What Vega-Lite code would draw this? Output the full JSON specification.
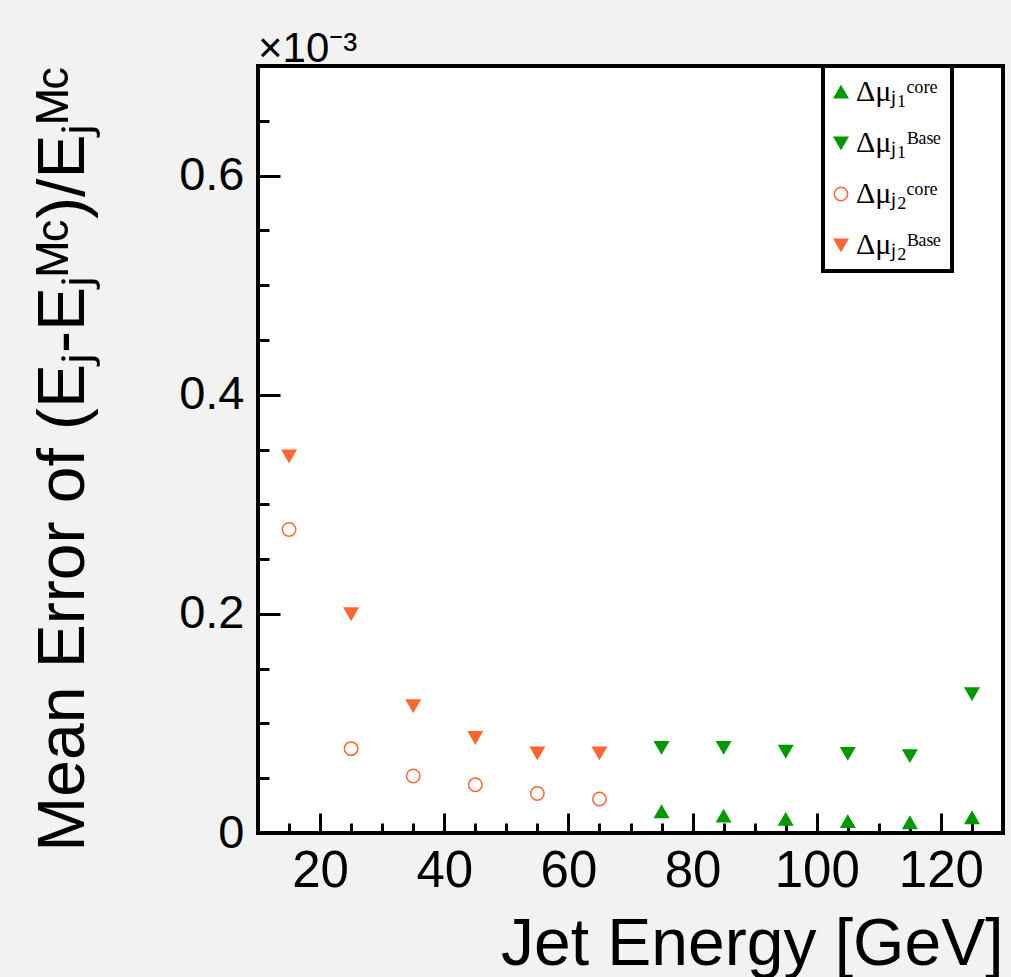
{
  "$schema": "https://vega.github.io/schema/vega-lite/v6.json",
  "width": 745,
  "height": 767,
  "autosize": {"type": "none"},
  "padding": {"left": 258, "top": 66, "right": 8, "bottom": 144},
  "background": "#f2f2f2",
  "title": {
    "text": "×10⁻³",
    "anchor": "start",
    "frame": "group",
    "offset": 6,
    "dy": 46,
    "fontSize": 42,
    "font": "Liberation Sans",
    "fontWeight": "normal",
    "color": "black",
    "baseline": "alphabetic"
  },
  "data": {
    "values": [
      {"E": 15, "err": 0.344, "s": "J2Base"},
      {"E": 25, "err": 0.200, "s": "J2Base"},
      {"E": 35, "err": 0.116, "s": "J2Base"},
      {"E": 45, "err": 0.087, "s": "J2Base"},
      {"E": 55, "err": 0.073, "s": "J2Base"},
      {"E": 65, "err": 0.073, "s": "J2Base"},
      {"E": 15, "err": 0.277, "s": "J2Core"},
      {"E": 25, "err": 0.077, "s": "J2Core"},
      {"E": 35, "err": 0.052, "s": "J2Core"},
      {"E": 45, "err": 0.044, "s": "J2Core"},
      {"E": 55, "err": 0.036, "s": "J2Core"},
      {"E": 65, "err": 0.031, "s": "J2Core"},
      {"E": 75, "err": 0.078, "s": "J1Base"},
      {"E": 85, "err": 0.078, "s": "J1Base"},
      {"E": 95, "err": 0.0745, "s": "J1Base"},
      {"E": 105, "err": 0.0725, "s": "J1Base"},
      {"E": 115, "err": 0.0705, "s": "J1Base"},
      {"E": 125, "err": 0.127, "s": "J1Base"},
      {"E": 75, "err": 0.0195, "s": "J1Core"},
      {"E": 85, "err": 0.0155, "s": "J1Core"},
      {"E": 95, "err": 0.0125, "s": "J1Core"},
      {"E": 105, "err": 0.0105, "s": "J1Core"},
      {"E": 115, "err": 0.0095, "s": "J1Core"},
      {"E": 125, "err": 0.014, "s": "J1Core"}
    ]
  },
  "mark": {"type": "point", "filled": true, "size": 180, "strokeWidth": 1.5, "opacity": 1},
  "encoding": {
    "x": {
      "field": "E",
      "type": "quantitative",
      "scale": {"domain": [10, 130], "nice": false, "zero": false},
      "axis": {
        "title": "Jet Energy [GeV]",
        "values": [15, 20, 25, 30, 35, 40, 45, 50, 55, 60, 65, 70, 75, 80, 85, 90, 95, 100, 105, 110, 115, 120, 125],
        "labelExpr": "datum.value % 20 === 0 ? toString(datum.value) : ''",
        "tickSize": {"condition": {"test": "datum.value % 20 === 0", "value": -20}, "value": -10},
        "tickWidth": 3,
        "tickColor": "black",
        "domain": false,
        "grid": false,
        "labelFont": "Liberation Sans",
        "labelFontSize": 51,
        "labelColor": "black",
        "labelPadding": 33,
        "labelFlush": false,
        "labelOverlap": false,
        "titleFont": "Liberation Sans",
        "titleFontSize": 66,
        "titleFontWeight": "normal",
        "titleColor": "black",
        "titleAnchor": "end",
        "titleAlign": "right",
        "titleBaseline": "alphabetic",
        "titleX": 745,
        "titleY": 131
      }
    },
    "y": {
      "field": "err",
      "type": "quantitative",
      "scale": {"domain": [0, 0.7], "nice": false, "zero": false},
      "axis": {
        "title": "Mean Error of (Eⱼ-Eⱼᴹᶜ)/Eⱼᴹᶜ",
        "values": [0, 0.05, 0.1, 0.15, 0.2, 0.25, 0.3, 0.35, 0.4, 0.45, 0.5, 0.55, 0.6, 0.65],
        "labelExpr": "indexof([0,0.2,0.4,0.6], datum.value) >= 0 ? toString(datum.value) : ''",
        "tickSize": {"condition": {"test": "indexof([0,0.2,0.4,0.6], datum.value) >= 0", "value": -22}, "value": -11},
        "tickWidth": 3,
        "tickColor": "black",
        "domain": false,
        "grid": false,
        "labelFont": "Liberation Sans",
        "labelFontSize": 47,
        "labelColor": "black",
        "labelPadding": 36,
        "labelFlush": false,
        "labelOverlap": false,
        "titleFont": "Liberation Sans",
        "titleFontSize": 66,
        "titleFontWeight": "normal",
        "titleColor": "black",
        "titleAngle": 270,
        "titleAlign": "right",
        "titleBaseline": "alphabetic",
        "titleX": -175,
        "titleY": 0
      }
    },
    "shape": {
      "field": "s",
      "type": "nominal",
      "scale": {"domain": ["J1Core", "J1Base", "J2Core", "J2Base"], "range": ["triangle-up", "triangle-down", "circle", "triangle-down"]},
      "legend": {
        "title": null,
        "orient": "none",
        "legendX": 565,
        "legendY": 0,
        "padding": 11,
        "strokeColor": "black",
        "fillColor": "white",
        "symbolSize": 180,
        "symbolStrokeWidth": 1.5,
        "symbolOffset": -8,
        "labelFont": "Liberation Serif",
        "labelFontSize": 30,
        "labelColor": "black",
        "labelOffset": 0,
        "rowPadding": 21,
        "labelExpr": "datum.value === 'J1Core' ? 'Δμⱼ₁ᶜᵒʳᵉ' : datum.value === 'J1Base' ? 'Δμⱼ₁ᴮᵃˢᵉ' : datum.value === 'J2Core' ? 'Δμⱼ₂ᶜᵒʳᵉ' : 'Δμⱼ₂ᴮᵃˢᵉ'"
      }
    },
    "fill": {
      "field": "s",
      "type": "nominal",
      "scale": {"domain": ["J1Core", "J1Base", "J2Core", "J2Base"], "range": ["#009900", "#009900", "white", "#ff6633"]}
    },
    "stroke": {
      "field": "s",
      "type": "nominal",
      "scale": {"domain": ["J1Core", "J1Base", "J2Core", "J2Base"], "range": ["#009900", "#009900", "#ff6633", "#ff6633"]}
    }
  },
  "config": {
    "view": {"fill": "white", "stroke": "black", "strokeWidth": 4},
    "legend": {"strokeWidth": 4, "cornerRadius": 0},
    "font": "Liberation Sans"
  }
}
